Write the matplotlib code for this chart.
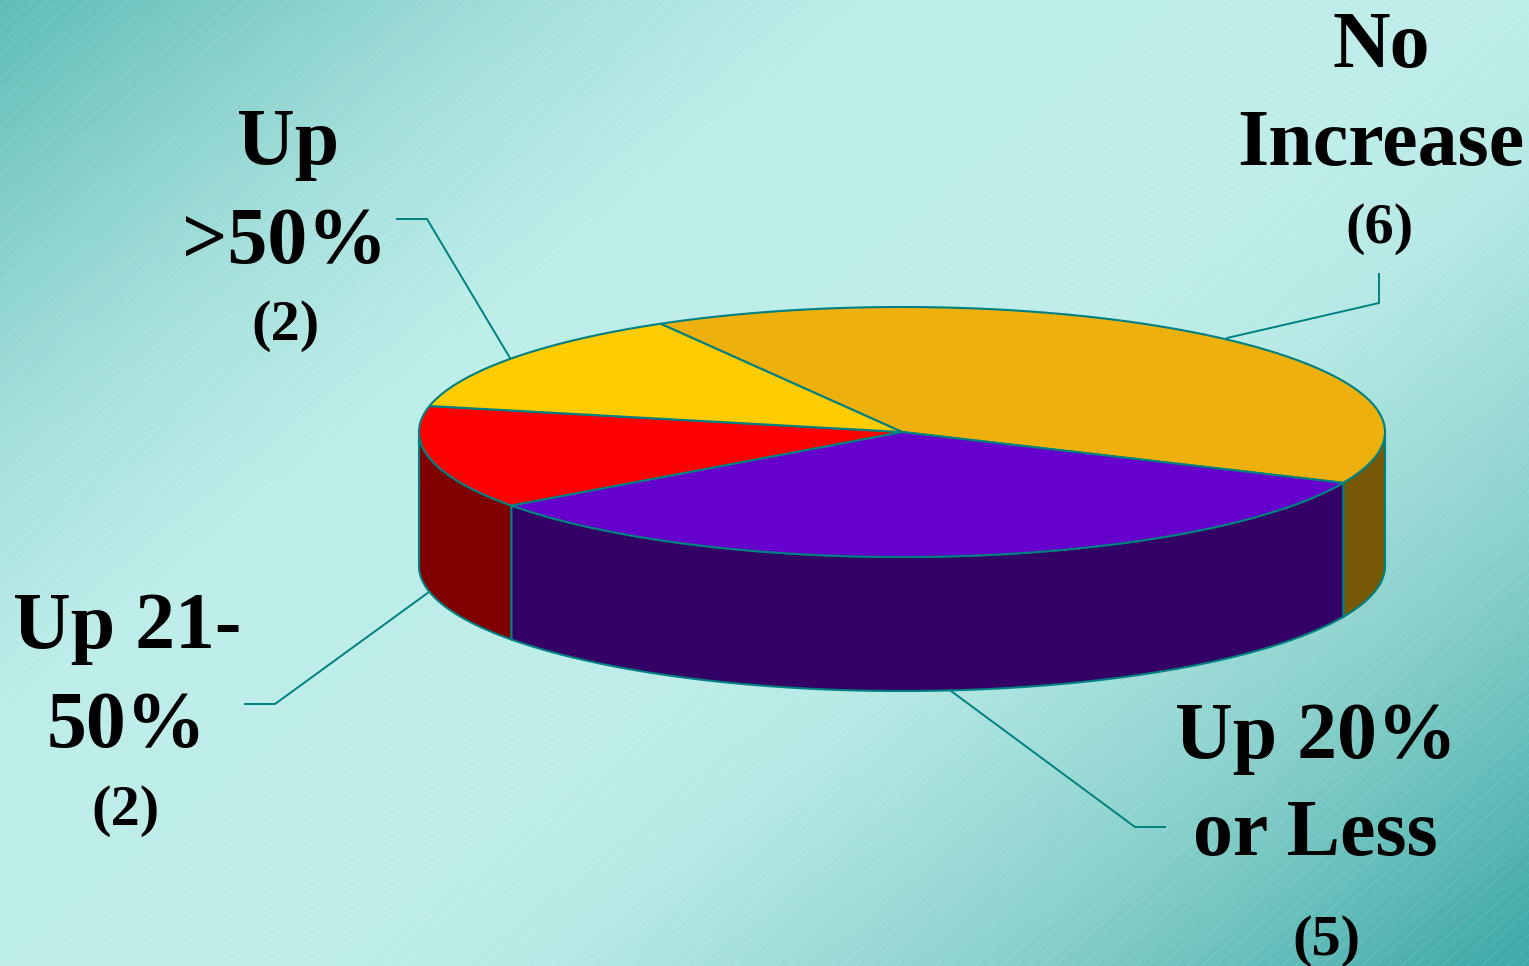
import numpy as np
import matplotlib
matplotlib.use("Agg")
import matplotlib.pyplot as plt
from matplotlib.colors import LinearSegmentedColormap
from matplotlib.patches import Polygon

W, H = 1529, 966

categories = ["No\nIncrease", "Up 20%\nor Less", "Up 21-\n50%", "Up\n>50%"]
counts = [6, 5, 2, 2]
top_colors = ["#EDB00C", "#6600CC", "#FF0000", "#FFCC00"]
side_colors = ["#765806", "#330066", "#800000", "#806600"]
edge_color = "#008080"

cx, cy, rx, ry, depth = 902, 432, 483, 125, 134
start_angle = 120.0

fig = plt.figure(figsize=(W / 100, H / 100), dpi=100)
ax = fig.add_axes([0, 0, 1, 1])
ax.set_xlim(0, W)
ax.set_ylim(H, 0)
ax.axis("off")

# diagonal backdrop: teal corners fading to pale aqua across the slide
yy, xx = np.mgrid[0:H, 0:W]
t = xx / W * 0.565 + yy / H * 0.435
bg = LinearSegmentedColormap.from_list(
    "slide",
    [(0.0, "#5FBDB8"), (0.10, "#85CFCA"), (0.20, "#A5E0DC"), (0.32, "#BDEDE9"),
     (0.55, "#BFEEEA"), (0.64, "#B6E9E5"), (0.73, "#9EDCD8"), (0.805, "#8AD0CC"),
     (0.878, "#6EC2BE"), (0.97, "#47AEAC"), (1.0, "#3FAAA8")],
)
rgb = bg(t)[..., :3]

# fine pale hatching laid over the gradient
phase = (xx * 0.9 + yy) % 12.0
stripe = np.clip(1.0 - np.abs(phase - 6.0), 0, 1) * 0.14
rgb = rgb + (1.0 - rgb) * stripe[..., None]
ax.imshow(rgb, extent=(0, W, H, 0), aspect="auto", zorder=0, interpolation="nearest")


def rim(a0, a1, n=160):
    a = np.radians(np.linspace(a0, a1, n))
    return cx + rx * np.cos(a), cy - ry * np.sin(a)


# slice boundaries run clockwise from the starting angle
sweeps = np.array(counts) / sum(counts) * 360
ends = start_angle - np.cumsum(sweeps)
starts = ends + sweeps

# outer wall, only where the rim faces the viewer (lower half of the ellipse)
for a0, a1, col in zip(starts, ends, side_colors):
    lo, hi = max(a1, -180), min(a0, 0)
    if hi <= lo:
        continue
    x, y = rim(lo, hi)
    pts = np.r_[np.c_[x, y], np.c_[x[::-1], y[::-1] + depth]]
    ax.add_patch(Polygon(pts, closed=True, fc=col, ec=edge_color, lw=1.5, zorder=2))

# top face wedges
for a0, a1, col in zip(starts, ends, top_colors):
    x, y = rim(a1, a0)
    pts = np.r_[[[cx, cy]], np.c_[x, y]]
    ax.add_patch(Polygon(pts, closed=True, fc=col, ec=edge_color, lw=1.5, zorder=3))

# leader lines
leaders = [
    ([1227, 1379, 1379], [338, 303, 274]),
    ([951, 1135, 1165], [691, 827, 827]),
    ([429, 275, 245], [592, 704, 704]),
    ([510, 427, 397], [358, 219, 219]),
]
for lx, ly in leaders:
    ax.plot(lx, ly, color=edge_color, lw=1.4, zorder=4, solid_joinstyle="miter")

serif = "Liberation Serif"
line_anchors = [
    [(1381, 67), (1381, 165)],
    [(1316, 758), (1315, 855)],
    [(127, 648), (126, 747)],
    [(288, 164), (285, 263)],
]
count_positions = [(1380, 229), (1326, 941), (126, 811), (286, 326)]
for name, n, anchors, (px, py) in zip(categories, counts, line_anchors, count_positions):
    for line, (lx, ly) in zip(name.split("\n"), anchors):
        ax.text(lx, ly, line, family=serif, weight="bold", fontsize=57.5, ha="center",
                va="baseline", color="black", zorder=5)
    ax.text(px, py, f"({n})", family=serif, weight="bold", fontsize=42, ha="center",
            va="center", color="black", zorder=5)

fig.savefig("out.png", dpi=100)
